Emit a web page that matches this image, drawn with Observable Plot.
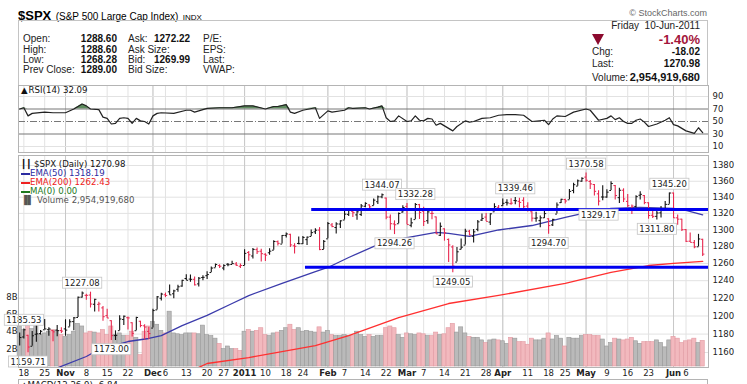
<!DOCTYPE html>
<html><head><meta charset="utf-8">
<script src="https://cdn.jsdelivr.net/npm/d3@7"></script>
<script src="https://cdn.jsdelivr.net/npm/@observablehq/plot@0.6"></script>
<style>
html,body{margin:0;padding:0;background:#fff;}
#wrap{position:relative;width:747px;height:384px;overflow:hidden;background:#fff;font-family:"Liberation Sans",Arial,sans-serif;color:#000;}
#wrap .a{position:absolute;white-space:nowrap;line-height:1;}
.lb{font-size:10px;color:#222;}
.vb{font-size:10px;font-weight:bold;color:#111;}
.lg{font-family:"DejaVu Sans",sans-serif;font-size:8.6px;}
.layer{position:absolute;left:0;}
.layer svg{display:block;}
</style></head><body>
<div id="wrap"></div>
<script>
// ---------- data ----------
const prevClose0 = 1173.81;
const dates = ["2010-10-15","2010-10-18","2010-10-19","2010-10-20","2010-10-21","2010-10-22","2010-10-25","2010-10-26","2010-10-27","2010-10-28","2010-10-29",
"2010-11-01","2010-11-02","2010-11-03","2010-11-04","2010-11-05","2010-11-08","2010-11-09","2010-11-10","2010-11-11","2010-11-12","2010-11-15","2010-11-16","2010-11-17","2010-11-18","2010-11-19","2010-11-22","2010-11-23","2010-11-24","2010-11-26","2010-11-29","2010-11-30",
"2010-12-01","2010-12-02","2010-12-03","2010-12-06","2010-12-07","2010-12-08","2010-12-09","2010-12-10","2010-12-13","2010-12-14","2010-12-15","2010-12-16","2010-12-17","2010-12-20","2010-12-21","2010-12-22","2010-12-23","2010-12-27","2010-12-28","2010-12-29","2010-12-30","2010-12-31",
"2011-01-03","2011-01-04","2011-01-05","2011-01-06","2011-01-07","2011-01-10","2011-01-11","2011-01-12","2011-01-13","2011-01-14","2011-01-18","2011-01-19","2011-01-20","2011-01-21","2011-01-24","2011-01-25","2011-01-26","2011-01-27","2011-01-28","2011-01-31",
"2011-02-01","2011-02-02","2011-02-03","2011-02-04","2011-02-07","2011-02-08","2011-02-09","2011-02-10","2011-02-11","2011-02-14","2011-02-15","2011-02-16","2011-02-17","2011-02-18","2011-02-22","2011-02-23","2011-02-24","2011-02-25","2011-02-28",
"2011-03-01","2011-03-02","2011-03-03","2011-03-04","2011-03-07","2011-03-08","2011-03-09","2011-03-10","2011-03-11","2011-03-14","2011-03-15","2011-03-16","2011-03-17","2011-03-18","2011-03-21","2011-03-22","2011-03-23","2011-03-24","2011-03-25","2011-03-28","2011-03-29","2011-03-30","2011-03-31",
"2011-04-01","2011-04-04","2011-04-05","2011-04-06","2011-04-07","2011-04-08","2011-04-11","2011-04-12","2011-04-13","2011-04-14","2011-04-15","2011-04-18","2011-04-19","2011-04-20","2011-04-21","2011-04-25","2011-04-26","2011-04-27","2011-04-28","2011-04-29",
"2011-05-02","2011-05-03","2011-05-04","2011-05-05","2011-05-06","2011-05-09","2011-05-10","2011-05-11","2011-05-12","2011-05-13","2011-05-16","2011-05-17","2011-05-18","2011-05-19","2011-05-20","2011-05-23","2011-05-24","2011-05-25","2011-05-26","2011-05-27","2011-05-31",
"2011-06-01","2011-06-02","2011-06-03","2011-06-06","2011-06-07","2011-06-08","2011-06-09","2011-06-10"];
const open = [1177.47,1176.83,1178.64,1166.74,1179.82,1180.52,1184.74,1184.88,1183.84,1184.47,1183.87,
1185.71,1187.86,1193.79,1198.34,1221.20,1223.24,1223.59,1213.14,1213.04,1209.07,1200.44,1194.79,1178.33,1183.75,1196.12,1198.07,1192.51,1183.70,1194.16,1189.08,1182.96,
1186.60,1206.81,1219.93,1223.87,1227.25,1225.02,1230.14,1233.85,1242.52,1241.84,1241.58,1236.34,1243.63,1245.76,1249.43,1254.94,1257.53,1254.66,1259.10,1258.78,1259.44,1256.76,
1257.62,1272.95,1268.78,1276.29,1274.41,1270.84,1272.58,1275.65,1285.78,1282.90,1293.22,1294.52,1280.85,1283.63,1283.29,1288.17,1291.97,1297.51,1299.63,1276.50,
1289.14,1305.91,1302.77,1307.01,1311.85,1318.76,1322.48,1318.13,1318.66,1328.73,1330.43,1329.51,1334.37,1340.38,1338.91,1315.44,1307.09,1307.34,1321.61,
1328.64,1305.47,1312.37,1330.73,1322.72,1311.05,1319.92,1315.72,1293.43,1301.19,1288.46,1279.46,1261.61,1276.71,1281.65,1298.29,1292.19,1300.61,1311.80,1315.45,1309.37,1321.89,1327.44,
1329.48,1333.56,1332.03,1335.94,1334.82,1336.16,1329.01,1321.96,1314.03,1311.13,1314.54,1313.35,1305.99,1319.12,1333.23,1337.14,1336.75,1348.43,1353.86,1360.14,
1365.21,1359.76,1355.90,1344.16,1340.24,1340.20,1348.34,1354.51,1339.39,1348.69,1334.77,1326.10,1328.54,1342.40,1342.00,1333.07,1317.70,1316.36,1320.64,1325.69,1331.10,
1345.20,1314.55,1312.94,1300.26,1286.31,1284.63,1279.63,1288.60];
const high = [1181.20,1185.53,1178.64,1182.94,1189.43,1183.93,1196.14,1187.11,1183.84,1189.53,1187.02,
1195.81,1195.88,1198.30,1221.25,1227.08,1224.57,1226.84,1218.75,1215.45,1210.50,1207.43,1194.79,1183.56,1200.29,1199.97,1198.94,1192.51,1198.62,1194.16,1190.34,1187.40,
1207.61,1221.89,1225.57,1225.80,1235.05,1228.93,1234.71,1240.40,1246.73,1246.59,1244.25,1243.75,1245.81,1250.20,1255.82,1259.39,1258.59,1258.43,1259.90,1262.60,1261.09,1259.34,
1276.17,1274.12,1277.63,1278.17,1276.83,1271.52,1277.25,1286.87,1286.70,1293.24,1296.06,1294.60,1283.35,1291.21,1291.93,1291.26,1299.74,1301.29,1302.67,1287.17,
1308.86,1307.61,1308.60,1311.00,1322.85,1324.87,1324.54,1322.78,1330.79,1332.96,1330.43,1337.61,1341.50,1344.07,1338.91,1317.91,1310.91,1320.61,1329.38,
1332.09,1314.19,1332.28,1331.08,1327.68,1325.74,1323.21,1315.72,1308.35,1301.19,1288.88,1280.91,1278.88,1288.88,1300.58,1299.35,1300.51,1311.34,1319.18,1319.74,1319.45,1331.74,1329.77,
1337.85,1336.74,1338.21,1339.46,1338.80,1339.38,1333.16,1321.96,1321.35,1316.79,1322.88,1313.35,1312.70,1332.66,1337.49,1337.55,1349.55,1357.49,1361.71,1364.56,
1370.58,1360.84,1355.90,1348.00,1354.36,1349.44,1359.44,1354.51,1351.05,1350.47,1343.33,1330.42,1341.82,1346.82,1342.00,1333.07,1323.72,1325.86,1328.51,1334.62,1345.20,
1345.20,1318.03,1312.94,1300.26,1296.22,1287.04,1294.54,1288.60];
const low = [1167.12,1174.55,1159.71,1166.74,1171.17,1178.99,1184.74,1177.72,1171.70,1177.10,1180.58,
1177.65,1187.86,1183.56,1198.34,1220.29,1217.55,1208.94,1204.33,1204.49,1194.08,1197.15,1173.00,1173.00,1183.75,1189.44,1184.58,1176.91,1183.70,1186.93,1173.64,1174.14,
1186.60,1206.81,1216.82,1220.67,1223.25,1219.50,1226.85,1232.58,1240.34,1238.17,1234.01,1232.85,1239.87,1241.51,1249.43,1254.94,1254.05,1251.48,1256.22,1258.78,1256.32,1254.19,
1257.62,1262.66,1265.36,1270.43,1261.70,1262.18,1269.62,1275.65,1280.47,1282.90,1290.16,1278.92,1271.26,1282.07,1282.47,1281.07,1291.97,1294.41,1275.10,1276.50,
1289.14,1302.62,1294.83,1301.67,1311.85,1316.03,1314.89,1311.74,1316.08,1326.90,1324.61,1329.51,1331.00,1338.12,1312.33,1299.55,1294.26,1307.34,1320.55,
1306.14,1302.58,1312.37,1312.59,1303.99,1306.86,1312.27,1294.21,1291.99,1286.37,1261.12,1249.05,1261.61,1276.18,1281.65,1292.70,1284.05,1297.74,1310.15,1310.19,1305.26,1321.89,1325.03,
1328.89,1329.10,1330.03,1330.67,1326.56,1322.94,1321.83,1309.51,1309.19,1302.42,1313.68,1294.70,1303.97,1319.12,1332.08,1331.47,1336.75,1344.25,1353.60,1358.69,
1358.59,1349.52,1341.50,1329.17,1335.58,1338.64,1348.34,1336.36,1332.03,1333.36,1327.32,1318.51,1326.59,1336.36,1330.67,1312.88,1313.87,1311.80,1314.41,1325.69,1331.10,
1313.71,1305.61,1297.90,1284.89,1284.74,1277.42,1279.63,1268.28];
const close = [1176.19,1184.71,1165.90,1178.17,1180.26,1183.08,1185.62,1185.64,1182.45,1183.78,1183.26,
1184.38,1193.57,1197.96,1221.06,1225.85,1223.25,1213.40,1218.71,1213.54,1199.21,1197.75,1178.34,1178.59,1196.69,1199.73,1197.84,1180.73,1198.35,1189.40,1187.76,1180.55,
1206.07,1221.53,1224.71,1223.12,1223.75,1228.28,1233.00,1240.40,1240.46,1241.59,1235.23,1242.87,1243.91,1247.08,1254.60,1258.84,1256.77,1257.54,1258.51,1259.78,1257.88,1257.64,
1271.87,1270.20,1276.56,1273.85,1271.50,1269.75,1274.48,1285.96,1283.76,1293.24,1295.02,1281.92,1280.26,1283.35,1290.84,1291.18,1296.63,1299.54,1276.34,1286.12,
1307.59,1304.03,1307.10,1310.87,1319.05,1324.57,1320.88,1321.87,1329.15,1332.32,1328.01,1336.32,1340.43,1343.01,1315.44,1307.40,1306.10,1319.88,1327.22,
1306.33,1308.44,1330.97,1321.15,1310.13,1321.82,1320.02,1295.11,1304.28,1296.39,1281.87,1256.88,1273.72,1279.21,1298.38,1293.77,1297.54,1309.66,1313.80,1310.19,1319.44,1328.26,1325.83,
1332.41,1332.87,1332.63,1335.54,1333.51,1328.17,1324.46,1314.16,1314.41,1314.52,1319.68,1305.14,1312.62,1330.36,1337.38,1335.25,1347.24,1355.66,1360.48,1363.61,
1361.22,1356.62,1347.32,1335.10,1340.20,1346.29,1357.16,1342.08,1348.65,1337.77,1329.47,1328.98,1340.68,1343.60,1333.27,1317.37,1316.28,1320.47,1325.69,1331.10,1345.20,
1314.55,1312.94,1300.16,1286.17,1284.94,1279.56,1289.00,1270.98];
// volume, billions of shares
const volume = [4.6,4.2,4.9,4.3,4.6,3.6,3.8,4.0,4.2,4.1,3.6,
3.4,3.6,4.0,4.9,4.6,3.8,4.0,3.9,3.8,4.2,3.6,4.6,3.6,3.8,3.5,3.5,4.0,3.3,1.3,4.0,4.6,
5.1,4.8,4.1,3.8,6.3,3.8,3.7,3.6,3.8,3.8,3.8,3.7,4.7,3.6,3.5,3.2,2.6,2.0,2.3,2.0,2.0,1.8,
4.0,4.2,4.0,4.1,4.4,3.6,3.5,3.8,3.9,4.1,4.4,4.8,4.2,4.4,4.0,4.1,4.0,3.9,4.5,3.9,
4.1,3.6,3.5,3.5,3.6,3.5,3.5,4.0,3.6,3.4,3.6,3.4,3.5,3.5,4.4,4.6,4.4,3.6,3.3,
3.8,3.7,3.6,3.8,3.7,3.5,3.5,3.9,3.6,3.7,4.4,4.9,3.9,4.5,3.8,3.4,3.3,3.3,3.0,2.7,3.0,3.1,3.0,
2.9,2.6,3.3,3.2,2.8,2.8,2.5,3.2,3.0,3.0,3.2,3.8,3.1,3.5,3.2,2.3,3.3,3.2,3.2,3.5,
3.6,3.6,3.5,3.5,3.1,2.3,2.7,3.2,3.1,3.0,3.1,3.3,2.9,2.6,2.8,2.8,2.8,3.0,2.7,2.2,3.0,
3.4,3.2,2.7,2.9,3.0,3.2,2.7,2.95];
// EMA lines (trading-day number, value)
const ema50Day = [8,17,20,27,32,35,40,46,52,56,64,72,75,80,87,94,101,104,109,116,124,132,136,143,150,158,161,165];
const ema50Val = [1140,1155.7,1163.2,1171.9,1175.2,1178.4,1189.4,1200.6,1214,1223,1236.8,1250.6,1255.3,1267,1282.3,1290.7,1296.8,1295.6,1292,1299.8,1305.2,1315,1319.8,1326,1327.3,1326,1323.6,1318.19];
const ema200Day = [43,46,56,72,80,92,104,116,132,143,152,158,165];
const ema200Val = [1142,1148.2,1154.6,1167.5,1178.4,1198.3,1214,1223.1,1236.8,1249.5,1257.6,1260,1262.43];
// RSI(14)
const rsiDay = [1,2,3,4,7,9,12,14,16,17,18,20,21,22,23,24,25,26,27,28,29,30,31,32,33,34,35,38,41,42,43,46,49,52,55,57,60,62,63,65,66,67,69,72,73,75,76,79,80,81,84,85,87,88,89,90,91,92,94,95,96,97,98,99,100,101,102,103,105,106,108,109,110,112,114,116,118,120,122,124,127,128,129,130,132,134,137,138,140,142,143,144,145,146,147,148,149,150,151,152,154,156,157,158,159,161,162,163,164,165];
const rsiVal = [70,72,59,63,65,64,64,70,78,75,70,69,57,55,46,47,55,56,55,47,55,51,50,46,59,63,64,63,68,68,65,71,72,72,75,75,70,74,74,77,65,63,68,72,55,67,65,68,72,71,72,70,73,75,56,50,51,59,50,51,59,52,51,55,54,44,47,43,35,42,51,49,50,55,56,60,61,61,60,50,52,45,54,59,58,65,70,68,52,55,59,53,56,50,47,47,52,54,49,42,46,52,56,45,43,35,33,31,40,32.09];
// support / resistance lines
const levelStart = [71, 69.5];
const levelPrice = [1324.7, 1255.7];
// annotated highs and lows
const hiDay = [2,16,88,96,120,137,157];
const hiVal = [1185.53,1227.08,1344.07,1332.28,1339.46,1370.58,1345.20];
const loDay = [3,23,91,105,128,140,154];
const loVal = [1159.71,1173.00,1294.26,1249.05,1294.70,1329.17,1311.80];
// axes
const tickDay = [2,7,12,17,22,27,33,36,41,46,50,55,60,65,69,75,79,84,89,94,98,103,108,113,117,123,128,132,137,142,147,152,158,161];
const tickText = ["18","25","Nov","8","15","22","Dec","6","13","20","27","2011","10","18","24","Feb","7","14","22","Mar","7","14","21","28","Apr","11","18","25","May","9","16","23","Jun","6"];
const monthDay = [12,33,55,75,94,117,137,158];
const priceTicks = [1160,1180,1200,1220,1240,1260,1280,1300,1320,1340,1360,1380];
const volTicks = [2,4,6,8];
const rsiTicks = [10,30,50,70,90];

// ---------- build ----------
const bars = dates.map((d,k)=>({i:k+1, o:open[k], h:high[k], l:low[k], c:close[k], v:volume[k],
  up: close[k] >= (k ? close[k-1] : prevClose0)}));
const ema50 = ema50Day.map((d,k)=>({i:d, v:ema50Val[k]}));
const ema200 = ema200Day.map((d,k)=>({i:d, v:ema200Val[k]}));
const rsi = rsiDay.map((d,k)=>({i:d, v:rsiVal[k]}));
const ticks = tickDay.map((d,k)=>({i:d, t:tickText[k], m: monthDay.includes(d)}));
const levels = levelPrice.map((p,k)=>({s:levelStart[k], p}));
const his = hiDay.map((d,k)=>({i:d, p:hiVal[k]}));
const los = loDay.map((d,k)=>({i:d, p:loVal[k]}));

const XD = [0.71, 166.4];
const base = {width:747, marginLeft:18, marginRight:39};
const font = {fontFamily:"DejaVu Sans, sans-serif", fontSize:"8.5px", background:"transparent", overflow:"visible", color:"#222"};
const wrap = document.getElementById("wrap");
function layer(top, svg){ const d=document.createElement("div"); d.className="layer"; d.style.top=top+"px"; d.appendChild(svg); wrap.appendChild(d); return svg; }
function html(s){ wrap.insertAdjacentHTML("beforeend", s); }

// header
html(`<div class="a" style="left:18px;top:7px;"><span style="font-size:13px;font-weight:bold">$SPX</span> <span style="font-size:10px">(S&amp;P 500 Large Cap Index)</span> <span style="font-size:8px">INDX</span></div>`);
html(`<div class="a" style="right:40px;top:9px;font-size:9px;color:#666">© StockCharts.com</div>`);
html(`<div class="a" style="left:18px;top:20px;width:690px;height:66px;border:1px solid #c4c4c4;box-sizing:border-box"></div>`);
const rowsY = [34,45,55,65];
[["Open:","1288.60","Ask:","1272.22","P/E:"],["High:","1288.60","Ask Size:","","EPS:"],["Low:","1268.28","Bid:","1269.99","Last:"],["Prev Close:","1289.00","Bid Size:","","VWAP:"]].forEach((r,k)=>{
  const t=rowsY[k];
  html(`<div class="a lb" style="left:23px;top:${t}px">${r[0]}</div>`);
  html(`<div class="a vb" style="right:630px;top:${t}px">${r[1]}</div>`);
  html(`<div class="a lb" style="left:128px;top:${t}px">${r[2]}</div>`);
  if(r[3]) html(`<div class="a vb" style="left:154px;top:${t}px">${r[3]}</div>`);
  html(`<div class="a lb" style="left:203px;top:${t}px">${r[4]}</div>`);
});
html(`<div class="a lb" style="right:47px;top:21px">Friday&nbsp; 10-Jun-2011</div>`);
html(`<div class="a" style="left:592px;top:34px;width:0;height:0;border-left:6px solid transparent;border-right:6px solid transparent;border-top:11px solid #8c0a2e"></div>`);
html(`<div class="a" style="right:47px;top:33px;font-size:13px;font-weight:bold;color:#a3163c">-1.40%</div>`);
html(`<div class="a lb" style="left:592px;top:47px">Chg:</div><div class="a vb" style="right:47px;top:47px">-18.02</div>`);
html(`<div class="a lb" style="left:592px;top:59px">Last:</div><div class="a vb" style="right:47px;top:59px">1270.98</div>`);
html(`<div class="a lb" style="left:592px;top:73px">Volume:</div><div class="a vb" style="right:47px;top:72px;font-size:11px">2,954,919,680</div>`);

// RSI panel
layer(85, Plot.plot({...base, height:67, marginTop:0, marginBottom:0, style:font,
  x:{domain:XD, axis:null},
  y:{domain:[0.4,107.6], axis:"right", ticks:rsiTicks, tickSize:0, tickPadding:4, label:null},
  marks:[
    Plot.ruleX(tickDay,{stroke:"#e2e2e2"}),
    Plot.ruleX(monthDay,{stroke:"#c8c8c8"}),
    Plot.ruleY([10,90],{stroke:"#e2e2e2"}),
    Plot.areaY(rsi,{x:"i", y1:70, y2:d=>Math.max(70,d.v), fill:"#5e8c5e"}),
    Plot.ruleY([30,70],{stroke:"#777"}),
    Plot.ruleY([50],{stroke:"#777", strokeDasharray:"7,2,1,2"}),
    Plot.line(rsi,{x:"i", y:"v", stroke:"#222", strokeWidth:1.2}),
    Plot.frame({stroke:"#b4b4b4"})
  ]}));
html(`<div class="a lg" style="left:21px;top:86px;color:#111">&#x25B2;<span style="margin-left:1px">RSI(14) 32.09</span></div>`);

// main panel: grid layer
const mainDims = {...base, height:232, marginTop:2, marginBottom:18};
const YD = [1143.95, 1392.9];
layer(153, Plot.plot({...mainDims, style:font,
  x:{domain:XD, axis:null},
  y:{type:"log", domain:YD, axis:"right", ticks:priceTicks, tickFormat:d=>String(d), tickSize:0, tickPadding:4, label:null},
  marks:[
    Plot.ruleY(priceTicks,{stroke:"#e2e2e2"}),
    Plot.ruleX(tickDay,{stroke:"#e2e2e2"}),
    Plot.ruleX(monthDay,{stroke:"#c8c8c8"}),
    Plot.text(ticks.filter(d=>!d.m),{x:"i", text:"t", frameAnchor:"bottom", dy:8, fontSize:8.5, fill:"#222"}),
    Plot.text(ticks.filter(d=>d.m),{x:"i", text:"t", frameAnchor:"bottom", dy:8, fontSize:8.5, fontWeight:"bold", fill:"#222"})
  ]}));

// volume layer
layer(153, Plot.plot({...mainDims, style:font,
  x:{domain:XD, axis:null},
  y:{domain:[-0.115, 24.25], axis:null},
  marks:[
    Plot.rect(bars,{x1:d=>d.i-0.5, x2:d=>d.i+0.5, y1:0, y2:"v", fill:d=>d.up?"#bababa":"#f2b9be", stroke:d=>d.up?"#999":"#e29aa2", strokeWidth:0.6}),
    Plot.text(volTicks,{y:d=>d, text:d=>d+"B", frameAnchor:"left", textAnchor:"end", dx:-1, fontSize:8.5, fill:"#222"})
  ]}));

// price layer
const priceSvg = layer(153, Plot.plot({...mainDims, style:font,
  x:{domain:XD, axis:null},
  y:{type:"log", domain:YD, axis:null},
  marks:[
    Plot.line(ema200,{x:"i", y:"v", stroke:"#ff3030", strokeWidth:1.3, clip:true}),
    Plot.line(ema50,{x:"i", y:"v", stroke:"#3b3bab", strokeWidth:1.3, clip:true}),
    Plot.ruleX(bars,{x:"i", y1:"l", y2:"h", stroke:d=>d.up?"#111":"#e8284f", strokeWidth:1.1}),
    Plot.link(bars,{x1:d=>d.i-0.42, x2:"i", y1:"o", y2:"o", stroke:d=>d.up?"#111":"#e8284f", strokeWidth:1}),
    Plot.link(bars,{x1:"i", x2:d=>d.i+0.42, y1:"c", y2:"c", stroke:d=>d.up?"#111":"#e8284f", strokeWidth:1}),
    Plot.link(levels,{x1:"s", x2:XD[1], y1:"p", y2:"p", stroke:"#0000f0", strokeWidth:3}),
    Plot.text(his,{x:"i", y:"p", text:d=>d.p.toFixed(2), dy:-9, fontSize:8.5, fill:"#222", ariaDescription:"boxed"}),
    Plot.text(los,{x:"i", y:"p", text:d=>d.p.toFixed(2), dy:9, fontSize:8.5, fill:"#222", ariaDescription:"boxed"}),
    Plot.frame({stroke:"#b4b4b4"})
  ]}));
priceSvg.querySelectorAll(`g[aria-description="boxed"] text`).forEach(t=>{
  const b=t.getBBox();
  const r=document.createElementNS("http://www.w3.org/2000/svg","rect");
  r.setAttribute("x",b.x-2); r.setAttribute("y",b.y-0.5);
  r.setAttribute("width",b.width+4); r.setAttribute("height",b.height+1);
  r.setAttribute("fill","#fff"); r.setAttribute("stroke","#c4c4c4"); r.setAttribute("stroke-width","0.8");
  if(t.getAttribute("transform")) r.setAttribute("transform",t.getAttribute("transform"));
  t.parentNode.insertBefore(r,t);
});

// legend
html(`<div class="a lg" style="left:21px;top:160px;color:#111">&#x2503;&#x2503; $SPX (Daily) 1270.98</div>`);
html(`<div class="a lg" style="left:21px;top:169px;color:#2b2ba0"><span style="display:inline-block;width:9px;height:2px;background:#2b2ba0;vertical-align:middle"></span>EMA(50) 1318.19</div>`);
html(`<div class="a lg" style="left:21px;top:178px;color:#ee2020"><span style="display:inline-block;width:9px;height:2px;background:#ee2020;vertical-align:middle"></span>EMA(200) 1262.43</div>`);
html(`<div class="a lg" style="left:21px;top:187px;color:#1d7a1d"><span style="display:inline-block;width:9px;height:2px;background:#1d7a1d;vertical-align:middle"></span>MA(0) 0.00</div>`);
html(`<div class="a lg" style="left:21px;top:196px;color:#555">&#x2590;&#x258C; Volume 2,954,919,680</div>`);

// next panel (cut off)
html(`<div class="a" style="left:18px;top:379px;width:690px;height:10px;border-top:1px solid #b4b4b4;border-left:1px solid #b4b4b4;border-right:1px solid #b4b4b4;box-sizing:border-box"></div>`);
html(`<div class="a lg" style="left:21px;top:381px;color:#111">&#x25B2;MACD(12,26,9) -6.84</div>`);
</script>
</body></html>
